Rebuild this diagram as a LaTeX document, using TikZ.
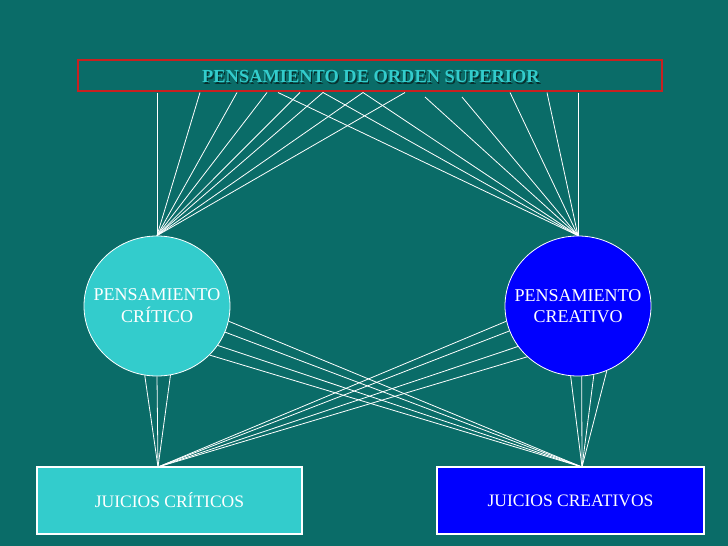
\documentclass[tikz,border=0pt]{standalone}
\usepackage{fontspec}
\setmainfont{Liberation Serif}
\usetikzlibrary{shapes.geometric}
\definecolor{bgteal}{RGB}{10,108,104}
\definecolor{cyanfill}{RGB}{51,204,204}
\definecolor{bluefill}{RGB}{0,0,255}
\definecolor{redframe}{RGB}{200,32,32}
\definecolor{shadowc}{RGB}{8,48,46}
\newcommand{\bubbletext}[2]{\makebox[0pt][c]{\begin{tabular}{@{}c@{}}#1\\#2\end{tabular}}}
\begin{document}
\begin{tikzpicture}[x=1pt,y=-1pt,
  wire/.style={white, line width=0.8pt},
  bubble/.style={ellipse, draw=white, line width=0.8pt, minimum width=146pt, minimum height=140pt, inner sep=0pt, text=white, font=\fontsize{18}{21}\selectfont},
  judgebox/.style={rectangle, draw=white, line width=1.2pt, minimum height=67pt, inner sep=0pt, text=white, font=\fontsize{17.5}{21}\selectfont},
  titlefont/.style={font=\bfseries\fontsize{18.4}{21}\selectfont}]
\fill[bgteal] (0,0) rectangle (728,546);
\useasboundingbox (0,0) rectangle (728,546);
% title bar
\node[draw=redframe, line width=2.5pt, minimum width=584pt, minimum height=31pt, inner sep=0pt] (top) at (370,75.5) {};
\node[titlefont, text=shadowc] (topshadow) at (372.2,78) {PENSAMIENTO DE ORDEN SUPERIOR};
\node[titlefont, text=cyanfill] (toptext) at (371,76.5) {PENSAMIENTO DE ORDEN SUPERIOR};
% circles
\node[bubble, fill=cyanfill] (lc) at (157,306) {};
\node[text=white, font=\fontsize{18}{21}\selectfont] (lct) at (157,307.5) {\bubbletext{PENSAMIENTO}{CRÍTICO}};
\node[bubble, fill=bluefill] (rc) at (578,306) {};
\node[text=white, font=\fontsize{18}{21}\selectfont] (rct) at (578,307.5) {\bubbletext{PENSAMIENTO}{CREATIVO}};
% bottom boxes
\node[judgebox, fill=cyanfill, minimum width=265pt] (jc) at (169.5,500.5) {JUICIOS CRÍTICOS};
\node[judgebox, fill=bluefill, minimum width=267pt] (jr) at (570.5,500.5) {JUICIOS CREATIVOS};
\coordinate (jcp) at (158,467);
\coordinate (jrp) at (582,467);
% top lines to left circle
\foreach \x [count=\i] in {157,200,237,267,300,323,363,405}{
  \coordinate (tl\i) at (\x,92.5);
  \draw[wire] (tl\i) -- (lc.north);
}
% top lines to right circle
\foreach \x/\y [count=\i] in {278/92.5,323/92.5,363/92.5,425/97,462/97,510/92.5,547/92.5,578/92.5}{
  \coordinate (tr\i) at (\x,\y);
  \draw[wire] (tr\i) -- (rc.north);
}
% lower lines
\foreach \a in {260,270,281}{\draw[wire] (lc.\a) -- (jcp);}
\foreach \a in {192,200,214,225}{\draw[wire] (rc.\a) -- (jcp);}
\foreach \a in {348,339,327,317}{\draw[wire] (lc.\a) -- (jrp);}
\foreach \a in {264,273,283,294}{\draw[wire] (rc.\a) -- (jrp);}
\end{tikzpicture}
\end{document}
